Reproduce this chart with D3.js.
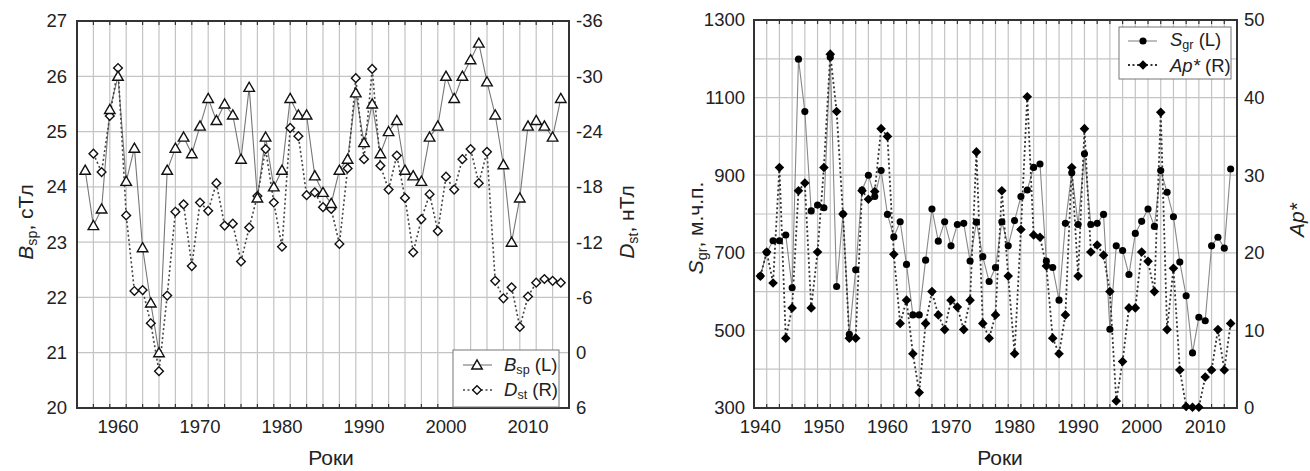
<!DOCTYPE html>
<html>
<head>
<meta charset="utf-8">
<script src="https://cdn.jsdelivr.net/npm/d3@7"></script>
<style>
  body { margin: 0; background: #fff; }
  svg text { font-family: "Liberation Sans", Arial, sans-serif; fill: #222; }
</style>
</head>
<body>
<svg id="chart" width="1310" height="471"></svg>
<script>
// ---- left panel data: B_sp (L, сТл) and D_st (R, нТл), 1956..2014
const yearsB = d3.range(1956, 2015);
const bsp = [24.3, 23.3, 23.6, 25.4, 26.0, 24.1, 24.7, 22.9, 21.9, 21.0,
  24.3, 24.7, 24.9, 24.6, 25.1, 25.6, 25.2, 25.5, 25.3, 24.5,
  25.8, 23.8, 24.9, 24.0, 24.3, 25.6, 25.3, 25.3, 24.2, 23.9,
  23.7, 24.3, 24.5, 25.7, 24.8, 25.5, 24.6, 25.0, 25.2, 24.3,
  24.2, 24.1, 24.9, 25.1, 26.0, 25.6, 26.0, 26.3, 26.6, 25.9,
  25.3, 24.4, 23.0, 23.8, 25.1, 25.2, 25.1, 24.9, 25.6];
const dst = [null, -21.6, -19.6, -25.7, -30.9, -14.9, -6.7, -6.8, -3.2, 2.0,
  -6.2, -15.3, -16.1, -9.4, -16.3, -15.4, -18.4, -13.8, -14.0, -9.9,
  -13.6, -17.0, -22.1, -16.3, -11.5, -24.4, -23.5, -17.1, -17.4, -15.8,
  -15.6, -11.8, -20.0, -29.8, -21.0, -30.8, -20.3, -17.7, -21.4, -16.8,
  -10.9, -14.5, -17.2, -13.2, -19.1, -17.7, -21.0, -22.1, -18.4, -21.8,
  -7.8, -5.9, -7.1, -2.8, -6.1, -7.6, -8.0, -7.8, -7.6];
const bTicks = [20, 21, 22, 23, 24, 25, 26, 27];
const dTicks = [6, 0, -6, -12, -18, -24, -30, -36];
const xTicksB = [1960, 1970, 1980, 1990, 2000, 2010];

// ---- right panel data: S_gr (L, м.ч.п.) and Ap* (R), 1940..2014
const yearsS = d3.range(1940, 2015);
const sgr = [640, 701, 731, 731, 746, 610, 1199, 1064, 808, 823,
  816, 1204, 613, 800, 490, 656, 862, 900, 845, 912,
  799, 741, 780, 670, 540, 540, 681, 813, 730, 780,
  718, 773, 776, 679, 779, 690, 626, 662, 780, 718,
  783, 845, 862, 920, 929, 679, 662, 578, 776, 906,
  773, 955, 773, 776, 799, 503, 718, 706, 644, 750,
  781, 813, 768, 912, 856, 793, 676, 589, 442, 534,
  525, 718, 740, 712, 916];
const ap = [17.0, 20.1, 16.1, 31.0, 9.0, 12.9, 28.0, 29.0, 12.9, 20.1,
  31.0, 45.6, 38.2, 25.0, 9.0, 9.0, 28.0, 26.9, 27.9, 36.0,
  35.0, 19.8, 10.9, 13.9, 7.0, 2.0, 10.9, 15.0, 12.0, 10.1,
  13.9, 13.0, 10.1, 13.9, 33.0, 10.9, 9.0, 12.0, 28.0, 17.0,
  7.0, 23.0, 40.1, 22.3, 22.0, 18.3, 9.0, 7.0, 12.0, 31.0,
  17.0, 36.0, 20.1, 21.0, 19.7, 15.0, 0.9, 6.0, 12.9, 12.9,
  20.1, 18.9, 15.0, 38.1, 10.1, 18.0, 4.9, 0.2, 0.1, 0.1,
  4.0, 4.9, 10.1, 4.9, 10.9];
const sTicks = [300, 500, 700, 900, 1100, 1300];
const sGrid = [400, 500, 600, 700, 800, 900, 1000, 1100, 1200];
const apTicks = [0, 10, 20, 30, 40, 50];
const xTicksS = [1940, 1950, 1960, 1970, 1980, 1990, 2000, 2010];

const svg = d3.select("#chart");
const FS = 18.5;

function frame(g, x, yL, yGrid, xDomain) {
  const [x0, x1] = x.range();
  const [yb, yt] = yL.range();
  // vertical grid at odd years
  const odd = d3.range(Math.ceil(xDomain[0]), xDomain[1] + 1).filter(v => v % 2 !== 0);
  g.append("g").selectAll("line").data(odd).join("line")
    .attr("x1", d => x(d)).attr("x2", d => x(d)).attr("y1", yt).attr("y2", yb)
    .attr("stroke", "#c4c4c4").attr("stroke-width", 1.2);
  g.append("g").selectAll("line").data(yGrid).join("line")
    .attr("x1", x0).attr("x2", x1).attr("y1", d => yL(d)).attr("y2", d => yL(d))
    .attr("stroke", "#c4c4c4").attr("stroke-width", 1.2);
  // small inner ticks top and bottom
  g.append("g").selectAll("line").data(odd).join("line")
    .attr("x1", d => x(d)).attr("x2", d => x(d)).attr("y1", yt).attr("y2", yt + 4)
    .attr("stroke", "#333").attr("stroke-width", 1.2);
  g.append("g").selectAll("line").data(odd).join("line")
    .attr("x1", d => x(d)).attr("x2", d => x(d)).attr("y1", yb).attr("y2", yb - 4)
    .attr("stroke", "#333").attr("stroke-width", 1.2);
  g.append("rect").attr("x", x0).attr("y", yt).attr("width", x1 - x0).attr("height", yb - yt)
    .attr("fill", "none").attr("stroke", "#333").attr("stroke-width", 2);
}

function subText(sel, main, sub, rest, italic) {
  sel.append("tspan").text(main).attr("font-style", italic ? "italic" : null);
  sel.append("tspan").text(sub).attr("font-size", "0.68em").attr("dy", "0.25em");
  sel.append("tspan").text(rest).attr("dy", "-0.17em");
}

// ================= LEFT PANEL =================
{
  const x = d3.scaleLinear([1955, 2015], [77, 569]);
  const yB = d3.scaleLinear([20, 27], [408, 21]);
  const yD = d3.scaleLinear([6, -36], [408, 21]);
  const g = svg.append("g");
  frame(g, x, yB, [21, 22, 23, 24, 25, 26], [1955, 2015]);

  g.selectAll(".tl").data(bTicks).join("text")
    .attr("x", 67).attr("y", d => yB(d)).attr("dy", "0.35em")
    .attr("text-anchor", "end").attr("font-size", FS).text(d => d);
  g.selectAll(".tr").data(dTicks).join("text")
    .attr("x", 576).attr("y", d => yD(d)).attr("dy", "0.35em")
    .attr("font-size", FS).text(d => d);
  g.selectAll(".tx").data(xTicksB).join("text")
    .attr("x", d => x(d)).attr("y", 433).attr("text-anchor", "middle")
    .attr("font-size", FS).text(d => d);

  g.append("text").attr("x", 331).attr("y", 465).attr("text-anchor", "middle")
    .attr("font-size", 21).text("Роки");
  subText(g.append("text").attr("transform", "translate(33,222) rotate(-90)")
    .attr("text-anchor", "middle").attr("font-size", 21), "B", "sp", ", сТл", true);
  subText(g.append("text").attr("transform", "translate(634,222) rotate(-90)")
    .attr("text-anchor", "middle").attr("font-size", 21), "D", "st", ", нТл", true);

  const ptsB = yearsB.map((yr, i) => ({ yr, v: bsp[i] }));
  const ptsD = yearsB.map((yr, i) => ({ yr, v: dst[i] })).filter(d => d.v !== null);

  g.append("path").datum(ptsB)
    .attr("d", d3.line().x(d => x(d.yr)).y(d => yB(d.v)))
    .attr("fill", "none").attr("stroke", "#777").attr("stroke-width", 1.1);
  g.append("path").datum(ptsD)
    .attr("d", d3.line().x(d => x(d.yr)).y(d => yD(d.v)))
    .attr("fill", "none").attr("stroke", "#444").attr("stroke-width", 1.6)
    .attr("stroke-dasharray", "2,2.5");

  const dia = d3.symbol(d3.symbolSquare, 38)();
  const tri = d3.symbol(d3.symbolTriangle, 48)();
  g.selectAll(".md").data(ptsD).join("path")
    .attr("d", dia).attr("transform", d => `translate(${x(d.yr)},${yD(d.v)}) rotate(45)`)
    .attr("fill", "#fff").attr("stroke", "#111").attr("stroke-width", 1.4);
  g.selectAll(".mt").data(ptsB).join("path")
    .attr("d", tri).attr("transform", d => `translate(${x(d.yr)},${yB(d.v) + 1})`)
    .attr("fill", "#fff").attr("stroke", "#111").attr("stroke-width", 1.4);

  // legend
  const lg = g.append("g");
  lg.append("rect").attr("x", 453).attr("y", 350).attr("width", 106).attr("height", 57)
    .attr("fill", "#fff").attr("stroke", "#777").attr("stroke-width", 1);
  lg.append("line").attr("x1", 463).attr("x2", 492).attr("y1", 365).attr("y2", 365)
    .attr("stroke", "#777").attr("stroke-width", 1.1);
  lg.append("path").attr("d", tri).attr("transform", "translate(477,366)")
    .attr("fill", "#fff").attr("stroke", "#111").attr("stroke-width", 1.4);
  lg.append("line").attr("x1", 463).attr("x2", 492).attr("y1", 390).attr("y2", 390)
    .attr("stroke", "#444").attr("stroke-width", 1.6).attr("stroke-dasharray", "2,2.5");
  lg.append("path").attr("d", dia).attr("transform", "translate(477,390) rotate(45)")
    .attr("fill", "#fff").attr("stroke", "#111").attr("stroke-width", 1.4);
  subText(lg.append("text").attr("x", 504).attr("y", 371).attr("font-size", FS), "B", "sp", " (L)", true);
  subText(lg.append("text").attr("x", 504).attr("y", 396).attr("font-size", FS), "D", "st", " (R)", true);
}

// ================= RIGHT PANEL =================
{
  const x = d3.scaleLinear([1939, 2015], [754, 1237]);
  const yS = d3.scaleLinear([300, 1300], [408, 20]);
  const yA = d3.scaleLinear([0, 50], [408, 20]);
  const g = svg.append("g");
  frame(g, x, yS, sGrid, [1939, 2015]);

  g.selectAll(".tl").data(sTicks).join("text")
    .attr("x", 745).attr("y", d => yS(d)).attr("dy", "0.35em")
    .attr("text-anchor", "end").attr("font-size", FS).text(d => d);
  g.selectAll(".tr").data(apTicks).join("text")
    .attr("x", 1244).attr("y", d => yA(d)).attr("dy", "0.35em")
    .attr("font-size", FS).text(d => d);
  g.selectAll(".tx").data(xTicksS).join("text")
    .attr("x", d => x(d)).attr("y", 433).attr("text-anchor", "middle")
    .attr("font-size", FS).text(d => d);

  g.append("text").attr("x", 1000).attr("y", 465).attr("text-anchor", "middle")
    .attr("font-size", 21).text("Роки");
  subText(g.append("text").attr("transform", "translate(703,228) rotate(-90)")
    .attr("text-anchor", "middle").attr("font-size", 21), "S", "gr", ", м.ч.п.", true);
  g.append("text").attr("transform", "translate(1304,220) rotate(-90)")
    .attr("text-anchor", "middle").attr("font-size", 21).attr("font-style", "italic").text("Ap*");

  const ptsS = yearsS.map((yr, i) => ({ yr, v: sgr[i] }));
  const ptsA = yearsS.map((yr, i) => ({ yr, v: ap[i] }));

  g.append("path").datum(ptsS)
    .attr("d", d3.line().x(d => x(d.yr)).y(d => yS(d.v)))
    .attr("fill", "none").attr("stroke", "#888").attr("stroke-width", 1.1);
  g.append("path").datum(ptsA)
    .attr("d", d3.line().x(d => x(d.yr)).y(d => yA(d.v)))
    .attr("fill", "none").attr("stroke", "#333").attr("stroke-width", 1.8)
    .attr("stroke-dasharray", "2,2.5");

  const dia = d3.symbol(d3.symbolSquare, 46)();
  const cir = d3.symbol(d3.symbolCircle, 40)();
  g.selectAll(".ma").data(ptsA).join("path")
    .attr("d", dia).attr("transform", d => `translate(${x(d.yr)},${yA(d.v)}) rotate(45)`)
    .attr("fill", "#000");
  g.selectAll(".ms").data(ptsS).join("path")
    .attr("d", cir).attr("transform", d => `translate(${x(d.yr)},${yS(d.v)})`)
    .attr("fill", "#000");

  const lg = g.append("g");
  lg.append("rect").attr("x", 1119).attr("y", 27).attr("width", 112).attr("height", 52)
    .attr("fill", "#fff").attr("stroke", "#777").attr("stroke-width", 1);
  lg.append("line").attr("x1", 1128).attr("x2", 1157).attr("y1", 41).attr("y2", 41)
    .attr("stroke", "#888").attr("stroke-width", 1.1);
  lg.append("path").attr("d", cir).attr("transform", "translate(1143,41)").attr("fill", "#000");
  lg.append("line").attr("x1", 1128).attr("x2", 1157).attr("y1", 65).attr("y2", 65)
    .attr("stroke", "#333").attr("stroke-width", 1.8).attr("stroke-dasharray", "2,2.5");
  lg.append("path").attr("d", dia).attr("transform", "translate(1143,65) rotate(45)").attr("fill", "#000");
  subText(lg.append("text").attr("x", 1170).attr("y", 46).attr("font-size", FS), "S", "gr", " (L)", true);
  const t2 = lg.append("text").attr("x", 1170).attr("y", 72).attr("font-size", FS);
  t2.append("tspan").attr("font-style", "italic").text("Ap*");
  t2.append("tspan").text(" (R)");
}
</script>
</body>
</html>
